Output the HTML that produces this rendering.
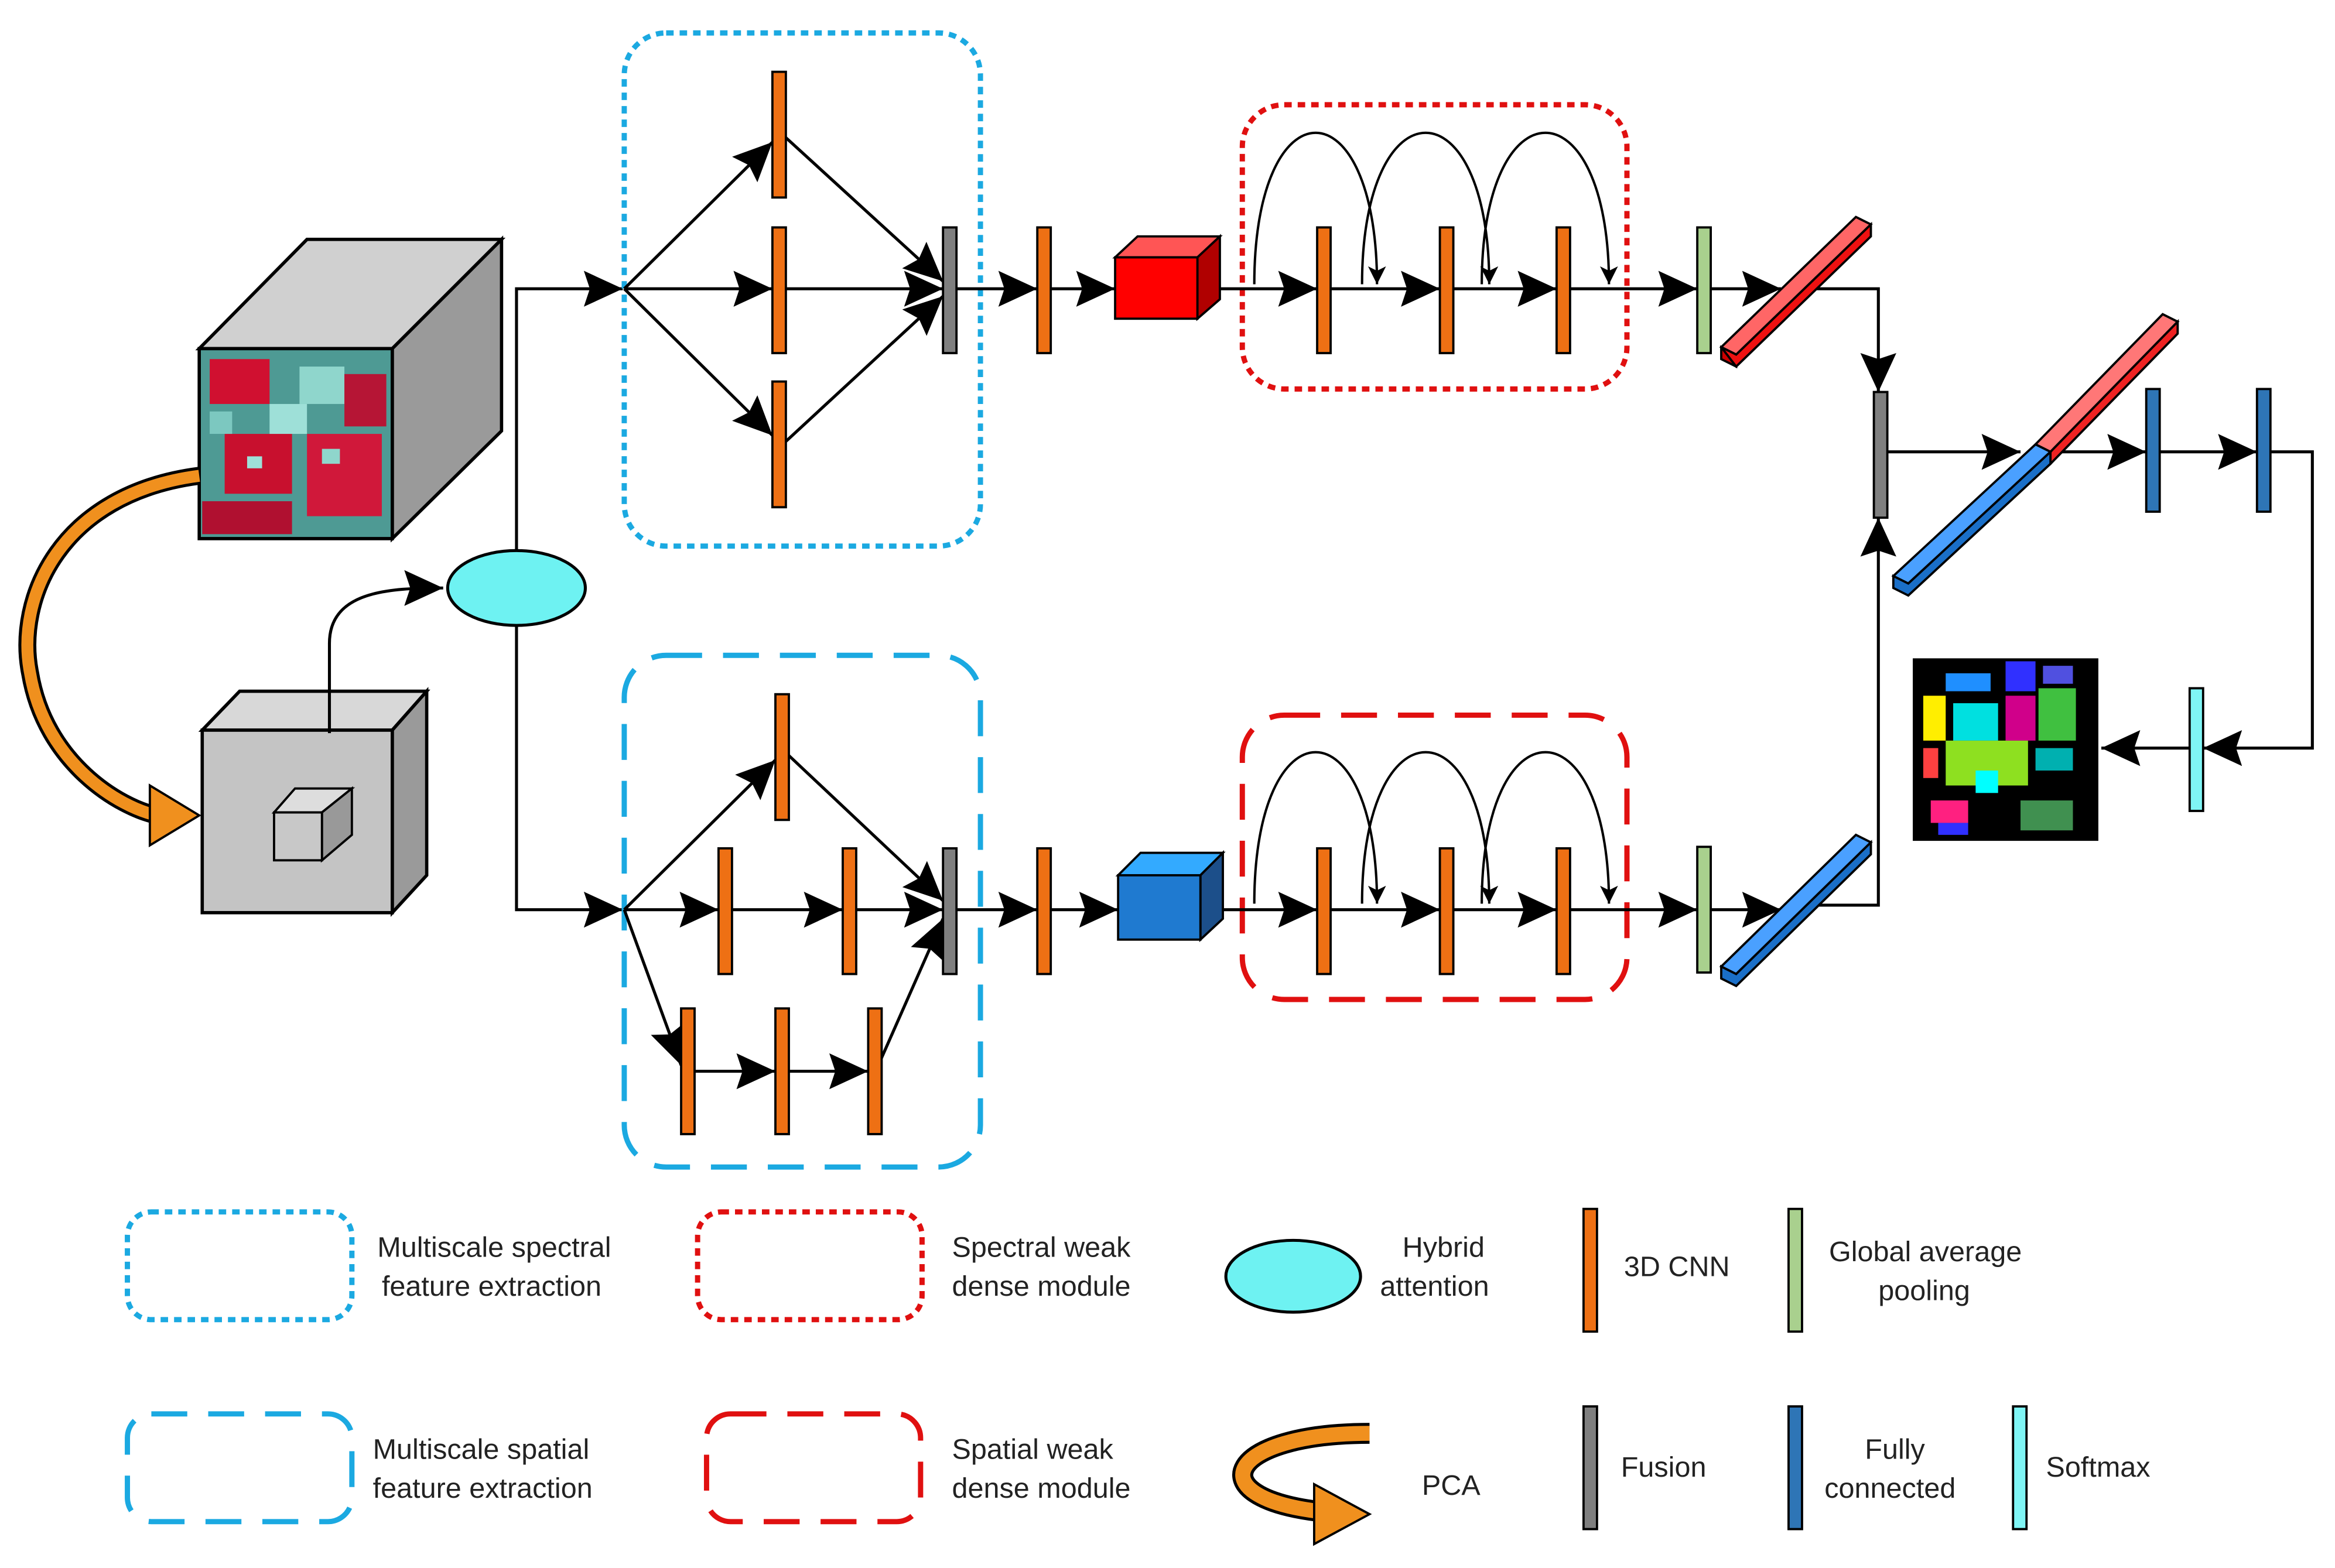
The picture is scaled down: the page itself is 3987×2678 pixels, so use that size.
<!DOCTYPE html>
<html><head><meta charset="utf-8"><style>
html,body{margin:0;padding:0;background:#fff}
svg{display:block}
text{font-family:"Liberation Sans",sans-serif;font-size:19px;fill:#222}
</style></head><body>
<svg width="3987" height="2678" viewBox="0 0 1560 1048" xmlns="http://www.w3.org/2000/svg">
<defs>
<marker id="a" markerUnits="userSpaceOnUse" markerWidth="30" markerHeight="26" refX="26" refY="12" orient="auto"><path d="M0,0 L26,12 L0,24 L4,12 Z" fill="#000"/></marker>
<marker id="s" markerUnits="userSpaceOnUse" markerWidth="14" markerHeight="14" refX="12" refY="6" orient="auto"><path d="M0,0 L12,6 L0,12 L3,6 Z" fill="#000"/></marker>
</defs>
<rect width="1560" height="1048" fill="#fff"/>
<g stroke="#000" stroke-width="2.2" fill="none">
<polygon points="133,233 205,160 335,160 262,233" fill="#d0d0d0"/>
<polygon points="262,233 335,160 335,288 262,360" fill="#9a9a9a"/>
<rect x="133" y="233" width="129" height="127" fill="#4e9a94"/>
<polygon points="135,488 160,462 285,462 262,488" fill="#d8d8d8"/>
<polygon points="262,488 285,462 285,585 262,610" fill="#9a9a9a"/>
<rect x="135" y="488" width="127" height="122" fill="#c4c4c4"/>
<polygon points="183,543 197,527 235,527 215,543" fill="#ddd" stroke-width="1.5"/>
<polygon points="215,543 235,527 235,558 215,575" fill="#999" stroke-width="1.5"/>
<rect x="183" y="543" width="32" height="32" fill="#c8c8c8" stroke-width="1.5"/>
</g>
<g>
<rect x="140" y="240" width="40" height="30" fill="#d01030"/><rect x="200" y="245" width="30" height="25" fill="#8fd6cc"/>
<rect x="150" y="290" width="45" height="40" fill="#c8102e"/><rect x="205" y="290" width="50" height="55" fill="#d0183a"/>
<rect x="135" y="335" width="60" height="22" fill="#b01030"/><rect x="230" y="250" width="28" height="35" fill="#b61535"/>
<rect x="180" y="270" width="25" height="20" fill="#9ee0d8"/><rect x="140" y="275" width="15" height="15" fill="#7cc8c0"/>
<rect x="215" y="300" width="12" height="10" fill="#8fd6cc"/><rect x="165" y="305" width="10" height="8" fill="#9ee0d8"/>
</g>
<rect x="133" y="233" width="129" height="127" fill="none" stroke="#000" stroke-width="2"/>
<path d="M133,318 C40,330 10,400 20,450 C30,510 80,540 105,545" fill="none" stroke="#000" stroke-width="12"/>
<path d="M133,318 C40,330 10,400 20,450 C30,510 80,540 105,545" fill="none" stroke="#f0901e" stroke-width="8"/>
<polygon points="100,525 133,545 100,565" fill="#f0901e" stroke="#000" stroke-width="1.5"/>
<ellipse cx="345" cy="393" rx="46" ry="25" fill="#6ef2f2" stroke="#000" stroke-width="2"/>
<g stroke="#000" stroke-width="2" fill="none">
<path d="M220,490 L220,430 C220,395 260,393 296,393" marker-end="url(#a)"/>
<path d="M345,368 L345,193 L416,193" marker-end="url(#a)"/>
<path d="M345,418 L345,608 L416,608" marker-end="url(#a)"/>
</g>
<g fill="none" stroke-width="3.5">
<rect x="417" y="22" width="238" height="343" rx="28" stroke="#1ba9e1" stroke-dasharray="5,4"/>
<rect x="417" y="438" width="238" height="342" rx="28" stroke="#1ba9e1" stroke-dasharray="24,14"/>
<rect x="830" y="70" width="257" height="190" rx="28" stroke="#e01010" stroke-dasharray="5,4"/>
<rect x="830" y="478" width="257" height="190" rx="28" stroke="#e01010" stroke-dasharray="24,14"/>
</g>
<g stroke="#000" stroke-width="2" fill="none">
<line x1="417" y1="193" x2="516" y2="95" marker-end="url(#a)"/>
<line x1="417" y1="193" x2="516" y2="193" marker-end="url(#a)"/>
<line x1="417" y1="193" x2="516" y2="291" marker-end="url(#a)"/>
<line x1="525" y1="92" x2="630" y2="188" marker-end="url(#a)"/>
<line x1="525" y1="193" x2="630" y2="193" marker-end="url(#a)"/>
<line x1="525" y1="295" x2="630" y2="198" marker-end="url(#a)"/>
<line x1="639" y1="193" x2="693" y2="193" marker-end="url(#a)"/>
<line x1="702" y1="193" x2="745" y2="193" marker-end="url(#a)"/>
<line x1="812" y1="193" x2="880" y2="193" marker-end="url(#a)"/>
<line x1="889" y1="193" x2="962" y2="193" marker-end="url(#a)"/>
<line x1="971" y1="193" x2="1040" y2="193" marker-end="url(#a)"/>
<line x1="1049" y1="193" x2="1134" y2="193" marker-end="url(#a)"/>
<line x1="1143" y1="193" x2="1190" y2="193" marker-end="url(#a)"/>
<path d="M1200,193 L1255,193 L1255,262" marker-end="url(#a)"/>
<line x1="417" y1="608" x2="518" y2="508" marker-end="url(#a)"/>
<line x1="417" y1="608" x2="480" y2="608" marker-end="url(#a)"/>
<line x1="489" y1="608" x2="563" y2="608" marker-end="url(#a)"/>
<line x1="572" y1="608" x2="630" y2="608" marker-end="url(#a)"/>
<line x1="417" y1="608" x2="455" y2="712" marker-end="url(#a)"/>
<line x1="464" y1="716" x2="518" y2="716" marker-end="url(#a)"/>
<line x1="527" y1="716" x2="580" y2="716" marker-end="url(#a)"/>
<line x1="527" y1="505" x2="630" y2="602" marker-end="url(#a)"/>
<line x1="585" y1="716" x2="630" y2="614" marker-end="url(#a)"/>
<line x1="639" y1="608" x2="693" y2="608" marker-end="url(#a)"/>
<line x1="702" y1="608" x2="747" y2="608" marker-end="url(#a)"/>
<line x1="815" y1="608" x2="880" y2="608" marker-end="url(#a)"/>
<line x1="889" y1="608" x2="962" y2="608" marker-end="url(#a)"/>
<line x1="971" y1="608" x2="1040" y2="608" marker-end="url(#a)"/>
<line x1="1049" y1="608" x2="1134" y2="608" marker-end="url(#a)"/>
<line x1="1143" y1="608" x2="1190" y2="608" marker-end="url(#a)"/>
<path d="M1200,605 L1255,605 L1255,346" marker-end="url(#a)"/>
<line x1="1261" y1="302" x2="1350" y2="302" marker-end="url(#a)"/>
<line x1="1370" y1="302" x2="1434" y2="302" marker-end="url(#a)"/>
<line x1="1443" y1="302" x2="1508" y2="302" marker-end="url(#a)"/>
<path d="M1517,302 L1545,302 L1545,500 L1472,500" marker-end="url(#a)"/>
<line x1="1463" y1="500" x2="1404" y2="500" marker-end="url(#a)"/>
</g>
<g stroke="#000" stroke-width="1.6" fill="none">
<path d="M838,190 C838,55 920,55 920,190" marker-end="url(#s)"/>
<path d="M910,190 C910,55 995,55 995,190" marker-end="url(#s)"/>
<path d="M990,190 C990,55 1075,55 1075,190" marker-end="url(#s)"/>
<path d="M838,604 C838,469 920,469 920,604" marker-end="url(#s)"/>
<path d="M910,604 C910,469 995,469 995,604" marker-end="url(#s)"/>
<path d="M990,604 C990,469 1075,469 1075,604" marker-end="url(#s)"/>
</g>
<g stroke="#000" stroke-width="1.5">
<g fill="#ee7014">
<rect x="516" y="48" width="9" height="84"/><rect x="516" y="152" width="9" height="84"/><rect x="516" y="255" width="9" height="84"/>
<rect x="693" y="152" width="9" height="84"/>
<rect x="880" y="152" width="9" height="84"/><rect x="962" y="152" width="9" height="84"/><rect x="1040" y="152" width="9" height="84"/>
<rect x="518" y="464" width="9" height="84"/><rect x="480" y="567" width="9" height="84"/><rect x="563" y="567" width="9" height="84"/>
<rect x="455" y="674" width="9" height="84"/><rect x="518" y="674" width="9" height="84"/><rect x="580" y="674" width="9" height="84"/>
<rect x="693" y="567" width="9" height="84"/>
<rect x="880" y="567" width="9" height="84"/><rect x="962" y="567" width="9" height="84"/><rect x="1040" y="567" width="9" height="84"/>
</g>
<g fill="#7f7f7f"><rect x="630" y="152" width="9" height="84"/><rect x="630" y="567" width="9" height="84"/><rect x="1252" y="262" width="9" height="84"/></g>
<g fill="#a9d08e"><rect x="1134" y="152" width="9" height="84"/><rect x="1134" y="566" width="9" height="84"/></g>
<g fill="#2e75b6"><rect x="1434" y="260" width="9" height="82"/><rect x="1508" y="260" width="9" height="82"/></g>
<rect x="1463" y="460" width="9" height="82" fill="#7ff5f5"/>
<polygon points="745,172 760,158 815,158 800,172" fill="#ff5555"/>
<polygon points="800,172 815,158 815,200 800,213" fill="#b00000"/>
<rect x="745" y="172" width="55" height="41" fill="#ff0000"/>
<polygon points="747,585 762,570 817,570 802,585" fill="#33aaff"/>
<polygon points="802,585 817,570 817,614 802,628" fill="#1c4f8a"/>
<rect x="747" y="585" width="55" height="43" fill="#1f7ad0"/>
<polygon points="1150,232 1240,145 1250,150 1160,237" fill="#ff6666"/>
<polygon points="1150,232 1160,237 1160,245 1150,240" fill="#cc0000"/>
<polygon points="1150,232 1160,237 1250,150 1250,158 1160,245" fill="#ee1111"/>
<polygon points="1150,646 1240,558 1250,563 1160,651" fill="#4aa0ff"/>
<polygon points="1150,646 1160,651 1250,563 1250,571 1160,659 1150,654" fill="#1a6fc8"/>
<polygon points="1360,297 1445,210 1455,215 1370,302" fill="#ff7777"/>
<polygon points="1360,297 1370,302 1455,215 1455,223 1370,310" fill="#ee2222"/>
<polygon points="1265,385 1360,297 1370,302 1275,390" fill="#4aa0ff"/>
<polygon points="1265,385 1275,390 1370,302 1370,310 1275,398 1265,393" fill="#1a6fc8"/>
</g>
<rect x="1278" y="440" width="124" height="122" fill="#000"/>
<g>
<rect x="1300" y="450" width="30" height="12" fill="#1f8fff"/><rect x="1340" y="442" width="20" height="20" fill="#3030ff"/>
<rect x="1285" y="465" width="15" height="30" fill="#ffee00"/><rect x="1305" y="470" width="30" height="25" fill="#00e0e0"/>
<rect x="1340" y="465" width="20" height="30" fill="#d0008a"/><rect x="1362" y="460" width="25" height="35" fill="#40c040"/>
<rect x="1300" y="495" width="55" height="30" fill="#8ee020"/><rect x="1360" y="500" width="25" height="15" fill="#00b0b0"/>
<rect x="1290" y="535" width="25" height="15" fill="#ff2080"/><rect x="1320" y="515" width="15" height="15" fill="#00ffff"/>
<rect x="1350" y="535" width="35" height="20" fill="#409050"/><rect x="1295" y="550" width="20" height="8" fill="#3030ff"/>
<rect x="1365" y="445" width="20" height="12" fill="#5050e0"/><rect x="1285" y="500" width="10" height="20" fill="#ff4040"/>
</g>
<g fill="none" stroke-width="3.5">
<rect x="85" y="810" width="150" height="72" rx="16" stroke="#1ba9e1" stroke-dasharray="5,4"/>
<rect x="466" y="810" width="150" height="72" rx="16" stroke="#e01010" stroke-dasharray="5,4"/>
<rect x="85" y="945" width="150" height="72" rx="16" stroke="#1ba9e1" stroke-dasharray="24,14"/>
<rect x="472" y="945" width="143" height="72" rx="16" stroke="#e01010" stroke-dasharray="24,14"/>
</g>
<ellipse cx="864" cy="853" rx="45" ry="24" fill="#6ef2f2" stroke="#000" stroke-width="2"/>
<g stroke="#000" stroke-width="1.5">
<rect x="1058" y="808" width="9" height="82" fill="#ee7014"/>
<rect x="1195" y="808" width="9" height="82" fill="#a9d08e"/>
<rect x="1058" y="940" width="9" height="82" fill="#7f7f7f"/>
<rect x="1195" y="940" width="9" height="82" fill="#2e75b6"/>
<rect x="1345" y="940" width="9" height="82" fill="#7ff5f5"/>
</g>
<path d="M915,958 C820,958 800,1000 880,1010" fill="none" stroke="#000" stroke-width="14"/>
<path d="M915,958 C820,958 800,1000 880,1010" fill="none" stroke="#f0901e" stroke-width="10"/>
<polygon points="878,992 915,1012 878,1032" fill="#f0901e" stroke="#000" stroke-width="1.5"/>
<text x="252" y="840">Multiscale spectral</text><text x="255" y="866">feature extraction</text>
<text x="636" y="840">Spectral weak</text><text x="636" y="866">dense module</text>
<text x="937" y="840">Hybrid</text><text x="922" y="866">attention</text>
<text x="1085" y="853">3D CNN</text>
<text x="1222" y="843">Global average</text><text x="1255" y="869">pooling</text>
<text x="249" y="975">Multiscale spatial</text><text x="249" y="1001">feature extraction</text>
<text x="636" y="975">Spatial weak</text><text x="636" y="1001">dense module</text>
<text x="950" y="999">PCA</text>
<text x="1083" y="987">Fusion</text>
<text x="1246" y="975">Fully</text><text x="1219" y="1001">connected</text>
<text x="1367" y="987">Softmax</text>
</svg>
</body></html>
